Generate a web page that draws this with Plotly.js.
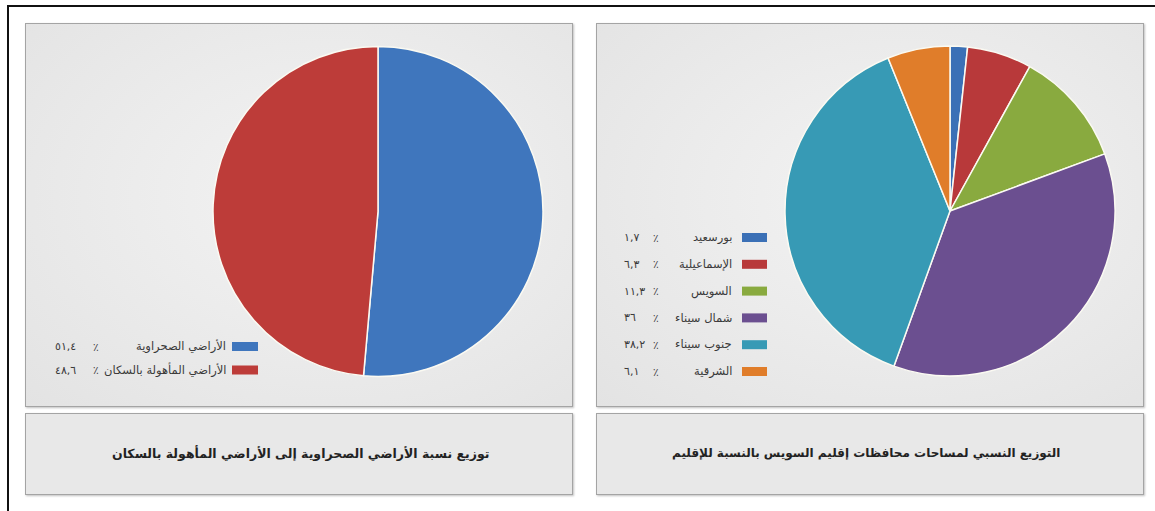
<!DOCTYPE html>
<html>
<head>
<meta charset="utf-8">
<script src="https://cdn.plot.ly/plotly-3.0.1.min.js"></script>
<style>
  html, body { margin: 0; padding: 0; background: #ffffff; width: 1155px; height: 511px; overflow: hidden; }
  .frame-l { position: absolute; left: 7px; top: 5px; width: 2px; height: 506px; background: #111; }
  .frame-t { position: absolute; left: 7px; top: 5px; width: 1148px; height: 2px; background: #111; }
  .panel { position: absolute; box-sizing: border-box; border: 1.5px solid #a4a4a4;
           background: radial-gradient(ellipse at 55% 45%, #f3f3f3 0%, #ececec 45%, #e3e3e3 100%);
           box-shadow: 1px 1px 2px rgba(0,0,0,0.25); }
  .tbox { position: absolute; box-sizing: border-box; border: 1.5px solid #a4a4a4;
          background: #e8e8e8; box-shadow: 1px 1px 2px rgba(0,0,0,0.25); }
  #chart { position: absolute; left: 0; top: 0; width: 1155px; height: 511px; }
</style>
</head>
<body>
<div class="frame-l"></div>
<div class="frame-t"></div>
<div class="panel" style="left:25px; top:23px; width:548px; height:384px;"></div>
<div class="tbox"  style="left:25px; top:413px; width:548px; height:82px;"></div>
<div class="panel" style="left:596px; top:23px; width:548px; height:384px;"></div>
<div class="tbox"  style="left:596px; top:413px; width:548px; height:82px;"></div>
<div id="chart"></div>
<script>
// ---- data ----
var landLabels = ["الأراضي الصحراوية", "الأراضي المأهولة بالسكان"];
var landValues = [51.4, 48.6];
var landColors = ["#3f76bd", "#bd3c39"];

var govLabels = ["بورسعيد", "الإسماعيلية", "السويس", "شمال سيناء", "جنوب سيناء", "الشرقية"];
var govValues = [1.7, 6.3, 11.3, 36, 38.2, 6.1];
var govColors = ["#3b70b6", "#b8393a", "#89aa3f", "#6b4f90", "#379ab5", "#e07d2a"];

var leftTitle = "توزيع نسبة الأراضي الصحراوية إلى الأراضي المأهولة بالسكان";
var rightTitle = "التوزيع النسبي لمساحات محافظات إقليم السويس بالنسبة للإقليم";

// ---- helpers ----
var W = 1155, H = 511;
function px(x) { return x / W; }
function py(y) { return 1 - y / H; }
function arDigits(v) {
  var s = String(v).replace(".", ",");
  var d = "٠١٢٣٤٥٦٧٨٩";
  return s.replace(/[0-9]/g, function (c) { return d[+c]; });
}
var FONT = "DejaVu Sans, sans-serif";
var TXT = "#3a3a3a";

var traces = [
  {
    type: "pie", labels: landLabels, values: landValues, sort: false,
    direction: "clockwise", rotation: 0, textinfo: "none", hoverinfo: "label+percent",
    marker: { colors: landColors, line: { color: "#fbfaf2", width: 1.5 } },
    domain: { x: [px(213), px(543)], y: [py(377), py(46)] }, showlegend: false
  },
  {
    type: "pie", labels: govLabels, values: govValues, sort: false,
    direction: "clockwise", rotation: 0, textinfo: "none", hoverinfo: "label+percent",
    marker: { colors: govColors, line: { color: "#fbfaf2", width: 1.5 } },
    domain: { x: [px(785), px(1115)], y: [py(376), py(46)] }, showlegend: false
  }
];

var shapes = [];
var annotations = [];

function addLegend(labels, values, colors, cfg) {
  for (var i = 0; i < labels.length; i++) {
    var yc = cfg.y0 + i * cfg.dy;
    shapes.push({
      type: "rect", xref: "paper", yref: "paper",
      x0: px(cfg.sw0), x1: px(cfg.sw1), y0: py(yc + 4.5), y1: py(yc - 4.5),
      fillcolor: colors[i], line: { width: 0 }
    });
    annotations.push({
      xref: "paper", yref: "paper", x: px(cfg.labelRight), y: py(yc),
      xanchor: "right", yanchor: "middle", showarrow: false,
      text: labels[i], font: { family: FONT, size: 11.5, color: TXT }
    });
    annotations.push({
      xref: "paper", yref: "paper", x: px(cfg.pctX), y: py(yc),
      xanchor: "center", yanchor: "middle", showarrow: false,
      text: "٪", font: { family: FONT, size: 10.5, color: TXT }
    });
    annotations.push({
      xref: "paper", yref: "paper", x: px(cfg.numLeft), y: py(yc),
      xanchor: "left", yanchor: "middle", showarrow: false,
      text: arDigits(values[i]), font: { family: FONT, size: 11, color: TXT }
    });
  }
}

addLegend(govLabels, govValues, govColors,
  { y0: 237.5, dy: 26.8, sw0: 742, sw1: 767, labelRight: 734, pctX: 656, numLeft: 622 });
addLegend(landLabels, landValues, landColors,
  { y0: 346.5, dy: 23.5, sw0: 232, sw1: 258, labelRight: 228, pctX: 96, numLeft: 53 });

annotations.push({
  xref: "paper", yref: "paper", x: px(300), y: py(453), xanchor: "center", yanchor: "middle",
  showarrow: false, text: "<b>" + leftTitle + "</b>", font: { family: FONT, size: 12.5, color: "#222" }
});
annotations.push({
  xref: "paper", yref: "paper", x: px(866), y: py(453), xanchor: "center", yanchor: "middle",
  showarrow: false, text: "<b>" + rightTitle + "</b>", font: { family: FONT, size: 12, color: "#222" }
});

var layout = {
  width: W, height: H,
  margin: { l: 0, r: 0, t: 0, b: 0 },
  paper_bgcolor: "rgba(0,0,0,0)", plot_bgcolor: "rgba(0,0,0,0)",
  showlegend: false,
  shapes: shapes, annotations: annotations
};

Plotly.newPlot("chart", traces, layout, { displayModeBar: false, staticPlot: true });
</script>
</body>
</html>
